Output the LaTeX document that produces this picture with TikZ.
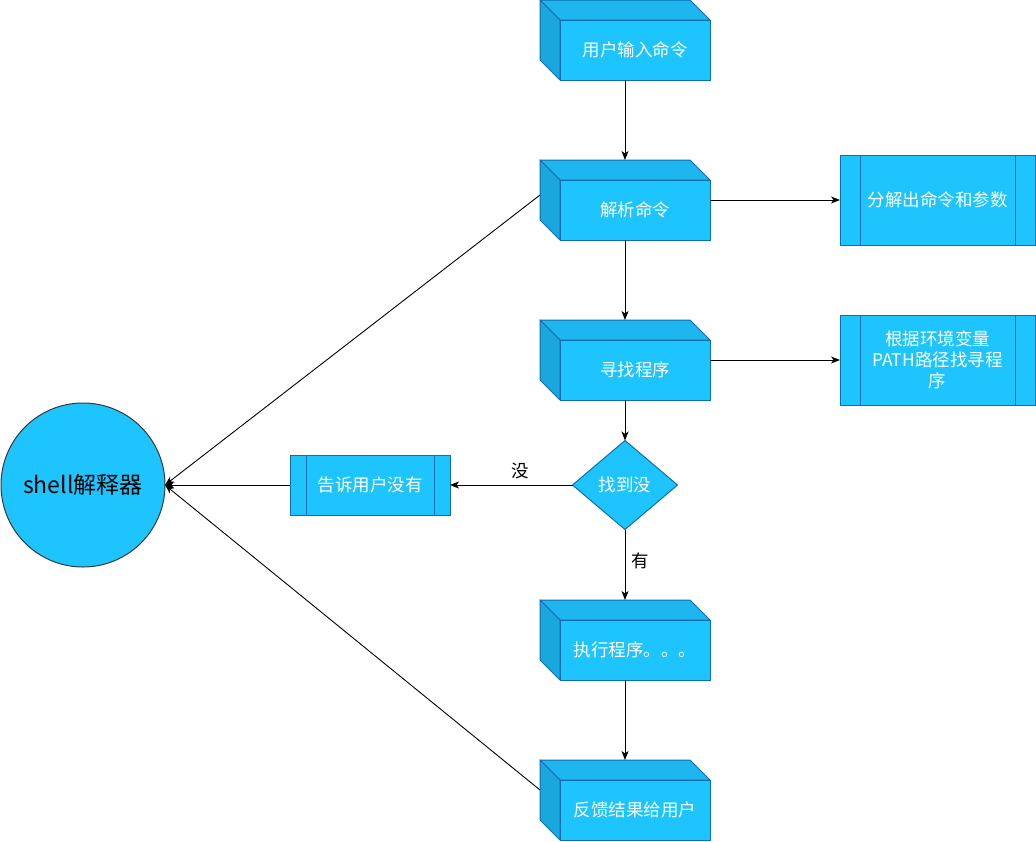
\documentclass[tikz,border=0pt]{standalone}
\usepackage{fontspec}
\setmainfont{Noto Sans CJK SC}
\usetikzlibrary{calc,shapes.geometric,arrows.meta}
\definecolor{cfront}{HTML}{1DC4FE}
\definecolor{ctop}{HTML}{1DB6EE}
\definecolor{cleft}{HTML}{1AA7DE}
\definecolor{cstroke}{HTML}{0E6EAF}
\definecolor{cring}{HTML}{36393D}
\tikzset{
  conn/.style={draw=black, line width=0.9pt, -{Stealth[length=9pt,width=7pt,inset=2.5pt]}},
  cubebox/.style={rectangle, minimum width=170pt, minimum height=80pt, inner sep=0pt, outer sep=0pt, draw=none},
  cubeline/.style={draw=cstroke, line width=1pt, line join=round},
  cubefront/.style={rectangle, minimum width=150pt, minimum height=60pt, inner sep=0pt, draw=cstroke, line width=1pt, fill=cfront, text=white, font=\fontsize{17.5}{21}\selectfont, align=center},
  procbox/.style={rectangle, minimum width=195pt, minimum height=90pt, inner sep=0pt, outer sep=0pt, draw=cstroke, line width=1pt, fill=cfront, text=white, font=\fontsize{17.5}{21}\selectfont, align=center},
  smallproc/.style={procbox, minimum width=160pt, minimum height=60pt},
  decision/.style={diamond, minimum width=105pt, minimum height=89pt, inner sep=0pt, outer sep=0pt, draw=cstroke, line width=1pt, fill=cfront, text=white, font=\fontsize{17.5}{21}\selectfont},
  shellnode/.style={circle, minimum size=164pt, inner sep=0pt, outer sep=0pt, draw=cring, line width=1pt, fill=cfront, text=black, font=\fontsize{23}{27}\selectfont},
  lbl/.style={inner sep=0pt, text=black, font=\fontsize{17.5}{21}\selectfont},
}
\newcommand\mkcube[4]{%
  \node[cubebox] (#1) at (#2,#3) {};
  \filldraw[cubeline, fill=ctop] (#1.north west) -- ($(#1.north east)+(-20,0)$) -- ($(#1.north east)+(0,20)$) -- ($(#1.north west)+(20,20)$) -- cycle;
  \filldraw[cubeline, fill=cleft] (#1.north west) -- ($(#1.north west)+(20,20)$) -- ($(#1.south west)+(20,0)$) -- ($(#1.south west)+(0,-20)$) -- cycle;
  \node[cubefront] (#1f) at ($(#1.center)+(10,10)$) {#4};
}
\begin{document}
\begin{tikzpicture}[x=1pt,y=-1pt]
  \fill[white] (0,0) rectangle (1036,841);
  \useasboundingbox (0,0) rectangle (1036,841);

  \mkcube{c1}{625}{40}{用户输入命令}
  \mkcube{c2}{625}{200}{解析命令}
  \mkcube{c3}{625}{360}{寻找程序}
  \mkcube{c4}{625}{640}{执行程序。。。}
  \mkcube{c5}{625}{800}{反馈结果给用户}

  \node[procbox] (p1) at (937.5,200) {分解出命令和参数};
  \draw[cubeline] ($(p1.north west)+(20,0)$) -- ($(p1.south west)+(20,0)$);
  \draw[cubeline] ($(p1.north east)+(-20,0)$) -- ($(p1.south east)+(-20,0)$);

  \node[procbox] (p2) at (937.5,360) {根据环境变量\\PATH路径找寻程\\序};
  \draw[cubeline] ($(p2.north west)+(20,0)$) -- ($(p2.south west)+(20,0)$);
  \draw[cubeline] ($(p2.north east)+(-20,0)$) -- ($(p2.south east)+(-20,0)$);

  \node[smallproc] (p3) at (370,485) {告诉用户没有};
  \draw[cubeline] ($(p3.north west)+(16,0)$) -- ($(p3.south west)+(16,0)$);
  \draw[cubeline] ($(p3.north east)+(-16,0)$) -- ($(p3.south east)+(-16,0)$);

  \node[decision] (d) at (625,485) {找到没};

  \node[shellnode] (s) at (83,485) {shell解释器};

  \draw[conn] (c1.south) -- (c2.north);
  \draw[conn] (c2.east) -- (p1.west);
  \draw[conn] (c2.south) -- (c3.north);
  \draw[conn] (c3.east) -- (p2.west);
  \draw[conn] (c3.south) -- (d.north);
  \draw[conn] (d.west) -- node[lbl, pos=0.43, above=6pt] {没} (p3.east);
  \draw[conn] (d.south) -- node[lbl, pos=0.44, right=6pt] {有} (c4.north);
  \draw[conn] (c4.south) -- (c5.north);
  \draw[conn] (p3.west) -- (s.east);
  \draw[conn] ($(c2.west)+(0,-5)$) -- (s.east);
  \draw[conn] ($(c5.west)+(0,-10)$) -- (s.east);
\end{tikzpicture}
\end{document}
